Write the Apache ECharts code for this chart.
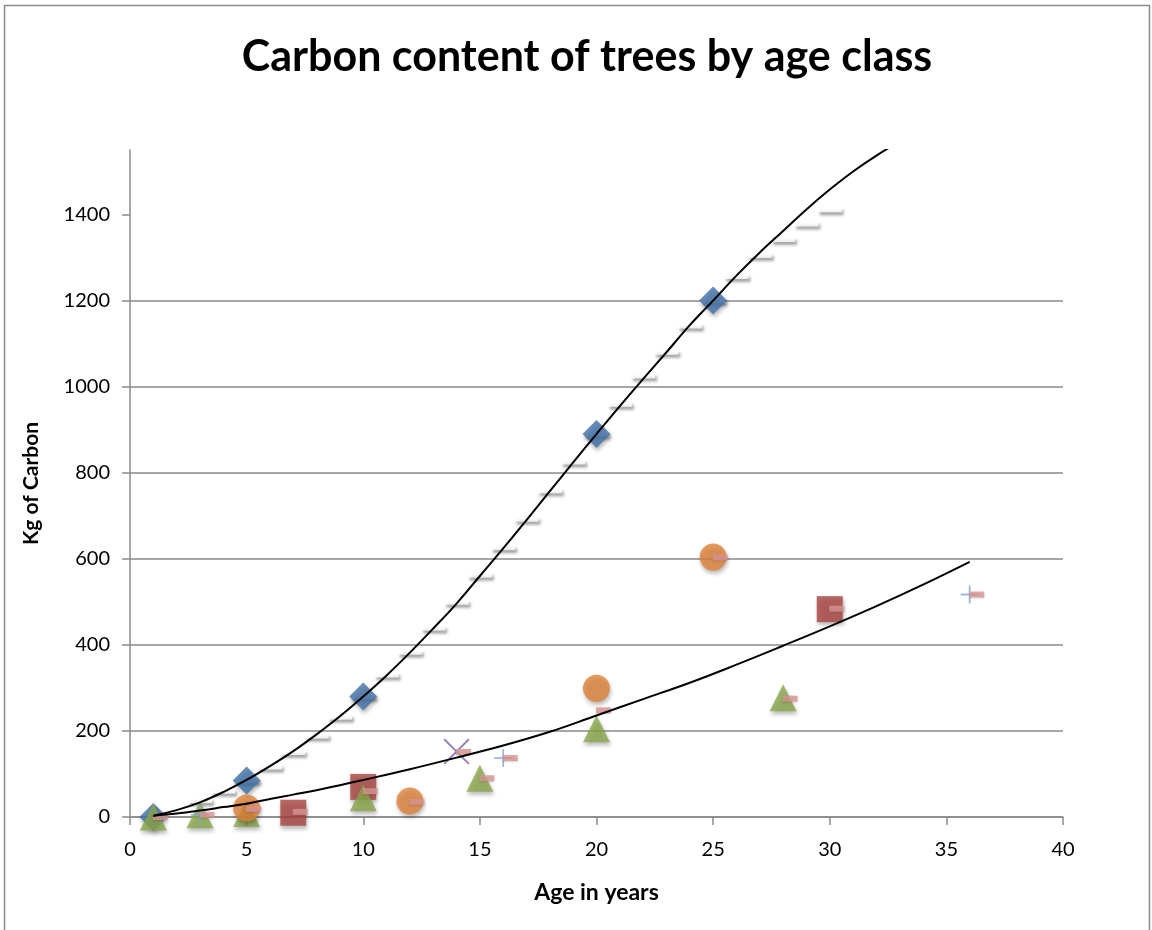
<!DOCTYPE html>
<html>
<head>
<meta charset="utf-8">
<script src="https://cdn.jsdelivr.net/npm/echarts@6/dist/echarts.min.js"></script>
<style>
  html, body { margin: 0; padding: 0; background: #fff; }
  #chart { width: 1152px; height: 930px; }
</style>
</head>
<body>
<div id="chart"></div>
<script>
// measured points, grouped by marker
const diamondAge = [1, 5, 10, 20, 25]
const diamondCarbon = [0, 85, 280, 890, 1200]

const squareAge = [7, 10, 30]
const squareCarbon = [10, 70, 483]

const triangleAge = [1, 3, 5, 10, 15, 20, 28]
const triangleCarbon = [0, 5, 8, 45, 90, 205, 277]

const circleAge = [5, 12, 20, 25]
const circleCarbon = [21, 37, 299, 604]

const crossAge = [14]
const crossCarbon = [152]

const plusAge = [3, 16, 36]
const plusCarbon = [5, 137, 517]

// pink dashes next to the points
const meanAge = [1, 3, 5, 7, 10, 12, 14, 15, 16, 20, 25, 28, 30, 36]
const meanCarbon = [0, 5, 19, 12, 60, 35, 151, 90, 137, 248, 603, 275, 484, 517]

// white dashes along the upper curve
const modelAge = [3, 4, 5, 6, 7, 8, 9, 10, 11, 12, 13, 14, 15, 16, 17, 18, 19, 20, 21, 22, 23, 24, 25, 26, 27, 28, 29, 30]
const modelCarbon = [38, 60, 85, 116, 150, 188, 232, 280, 330, 383, 439, 499, 562, 626, 692, 758, 825, 890, 959, 1025, 1080, 1141, 1200, 1256, 1305, 1342, 1378, 1411]

// trend lines
const upperAge = [1, 2, 3, 4, 5, 6, 7, 8, 9, 10, 11, 12, 13, 14, 15, 16, 17, 18, 19, 20, 21, 22, 23, 24, 25, 26, 27, 28, 29, 30, 31, 32, 33]
const upperCarbon = [3, 16, 34, 58, 86, 118, 153, 192, 234, 280, 329, 382, 438, 496, 560, 624, 690, 757, 824, 890, 955, 1018, 1080, 1143, 1200, 1258, 1312, 1362, 1412, 1458, 1500, 1537, 1570]

const lowerAge = [1, 2, 3, 4, 5, 6, 7, 8, 9, 10, 12, 14, 16, 18, 20, 22, 24, 26, 28, 30, 32, 34, 36]
const lowerCarbon = [3, 8, 15, 23, 31, 42, 52, 62, 74, 86, 111, 138, 166, 198, 236, 274, 312, 354, 398, 443, 490, 540, 593]

const yTicks = [0, 200, 400, 600, 800, 1000, 1200, 1400]

const pairs = (xs, ys) => xs.map((x, i) => [x, ys[i]])

const FONT = 'Lato'
const shadow = {
  shadowBlur: 4,
  shadowOffsetX: 1,
  shadowOffsetY: 3,
  shadowColor: 'rgba(0,0,0,0.35)'
}

const chart = echarts.init(document.getElementById('chart'), null, { renderer: 'canvas' })

const option = {
  backgroundColor: '#fff',
  animation: false,
  title: {
    text: 'Carbon content of trees by age class',
    left: 582,
    top: 31,
    textAlign: 'center',
    textStyle: { fontFamily: FONT, fontSize: 43, fontWeight: 'bold', color: '#000' }
  },
  graphic: [
    {
      type: 'rect',
      shape: { x: 4.5, y: 5.5, width: 1145, height: 940 },
      style: { fill: 'none', stroke: '#8c8c8c', lineWidth: 1.5 },
      silent: true
    }
  ],
  grid: { left: 130, right: 89, top: 150, bottom: 113 },
  xAxis: {
    type: 'value',
    min: 0,
    max: 40,
    interval: 5,
    name: 'Age in years',
    nameLocation: 'middle',
    nameGap: 64,
    nameTextStyle: { fontFamily: FONT, fontSize: 23, fontWeight: 'bold', color: '#000' },
    axisLine: { show: true, onZero: false, lineStyle: { color: '#8a8a8a', width: 1.5 } },
    axisTick: { show: true, length: 8, lineStyle: { color: '#8a8a8a', width: 1.5 } },
    axisLabel: { fontFamily: FONT, fontSize: 20, color: '#000', margin: 23 },
    splitLine: { show: false }
  },
  yAxis: {
    type: 'value',
    min: 0,
    max: 1550,
    interval: 200,
    name: 'Kg of Carbon',
    nameLocation: 'middle',
    nameGap: 88,
    nameTextStyle: { fontFamily: FONT, fontSize: 21, fontWeight: 'bold', color: '#000' },
    axisLine: { show: true, lineStyle: { color: '#8a8a8a', width: 1.5 } },
    axisTick: { show: true, length: 8, customValues: yTicks, lineStyle: { color: '#8a8a8a', width: 1.5 } },
    axisLabel: {
      fontFamily: FONT,
      fontSize: 20,
      color: '#000',
      margin: 20,
      customValues: yTicks,
      formatter: (v) => String(v)
    },
    splitLine: { show: true, showMaxLine: false, lineStyle: { color: '#8a8a8a', width: 1.5 } }
  },
  series: [
    {
      name: 'model',
      type: 'scatter',
      symbol: 'rect',
      symbolSize: [24, 5],
      data: pairs(modelAge, modelCarbon),
      itemStyle: { color: '#ffffff', shadowBlur: 3, shadowOffsetX: 2, shadowOffsetY: 3, shadowColor: 'rgba(0,0,0,0.45)' }
    },
    {
      name: 'diamond',
      type: 'scatter',
      symbol: 'diamond',
      symbolSize: [28, 28],
      data: pairs(diamondAge, diamondCarbon),
      itemStyle: Object.assign({ color: '#4170a8' }, shadow)
    },
    {
      name: 'square',
      type: 'scatter',
      symbol: 'rect',
      symbolSize: 26,
      data: pairs(squareAge, squareCarbon),
      itemStyle: Object.assign({ color: '#a94441' }, shadow)
    },
    {
      name: 'triangle',
      type: 'scatter',
      symbol: 'triangle',
      symbolSize: [27, 27],
      data: pairs(triangleAge, triangleCarbon),
      itemStyle: Object.assign({ color: '#8aa84b' }, shadow)
    },
    {
      name: 'circle',
      type: 'scatter',
      symbol: 'circle',
      symbolSize: 27,
      data: pairs(circleAge, circleCarbon),
      itemStyle: Object.assign({ color: '#e0823a' }, shadow)
    },
    {
      name: 'cross',
      type: 'scatter',
      symbol: 'path://M0,5 L5,0 L50,45 L95,0 L100,5 L55,50 L100,95 L95,100 L50,55 L5,100 L0,95 L45,50 Z',
      symbolSize: 26,
      data: pairs(crossAge, crossCarbon),
      itemStyle: { color: '#7d5fa1' }
    },
    {
      name: 'plus',
      type: 'scatter',
      symbol: 'path://M45,0 L55,0 L55,45 L100,45 L100,55 L55,55 L55,100 L45,100 L45,55 L0,55 L0,45 L45,45 Z',
      symbolSize: 18,
      data: pairs(plusAge, plusCarbon),
      itemStyle: { color: '#7fa6d9' }
    },
    {
      name: 'mean',
      type: 'scatter',
      symbol: 'rect',
      symbolSize: [15, 6],
      symbolOffset: [7, 0],
      data: pairs(meanAge, meanCarbon),
      itemStyle: { color: '#d99694', shadowBlur: 2, shadowOffsetY: 1, shadowColor: 'rgba(0,0,0,0.2)' }
    },
    {
      name: 'upper trend',
      type: 'line',
      smooth: 0.4,
      showSymbol: false,
      clip: true,
      z: 5,
      data: pairs(upperAge, upperCarbon),
      lineStyle: { color: '#000', width: 2 }
    },
    {
      name: 'lower trend',
      type: 'line',
      smooth: 0.4,
      showSymbol: false,
      clip: true,
      z: 5,
      data: pairs(lowerAge, lowerCarbon),
      lineStyle: { color: '#000', width: 2 }
    }
  ]
}

chart.setOption(option)
</script>
</body>
</html>
